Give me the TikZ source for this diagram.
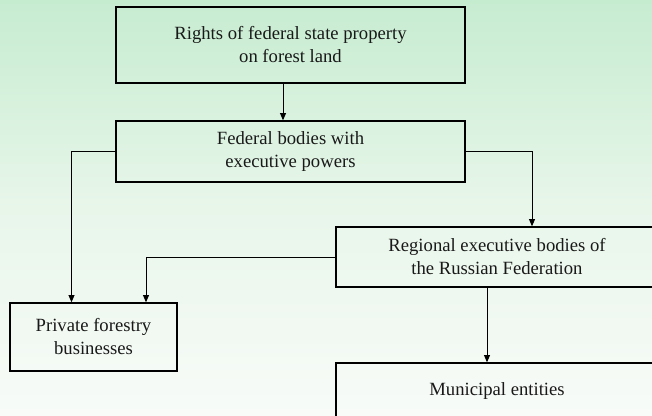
\documentclass[tikz,border=0pt]{standalone}
\usepackage{fontspec}
\setmainfont{Liberation Serif}
\usetikzlibrary{arrows.meta,calc}
\definecolor{bgtop}{RGB}{198,236,208}
\definecolor{bgmid}{RGB}{232,246,234}
\definecolor{bgbot}{RGB}{248,251,248}
\definecolor{txt}{RGB}{25,25,25}
\tikzset{
  box/.style={draw=black, line width=1pt, align=center, inner sep=0pt,
    font=\fontsize{14}{17.25}\selectfont, text=txt},
  link/.style={draw=black, line width=0.75pt,
    -{Triangle[length=5.5pt,width=4.5pt]}},
}
\begin{document}
\begin{tikzpicture}[x=0.75pt,y=-0.75pt]
\useasboundingbox (0,0) rectangle (652,415);
\clip (0,0) rectangle (652,415);
\shade[top color=bgtop, bottom color=bgbot, middle color=bgmid] (0,0) rectangle (652,415);
% boxes
\node[box, minimum width=349*0.75pt, minimum height=76*0.75pt] (top) at (290.5,45)
  {Rights of federal state property\\on forest land};
\node[box, minimum width=349*0.75pt, minimum height=61*0.75pt] (fed) at (290.5,151.5)
  {Federal bodies with\\executive powers};
\node[box, minimum width=322*0.75pt, minimum height=60*0.75pt] (reg) at (497,257)
  {Regional executive bodies of\\the Russian Federation};
\node[box, minimum width=167*0.75pt, minimum height=68*0.75pt] (priv) at (93.5,337)
  {Private forestry\\businesses};
\node[box, minimum width=322*0.75pt, minimum height=56*0.75pt] (mun) at (497,391)
  {Municipal entities};
% x positions of the vertical connectors
\coordinate (xa) at (283,0);
\coordinate (xb) at (71.5,0);
\coordinate (xc) at (532,0);
\coordinate (xd) at (146,0);
\coordinate (xe) at (487,0);
% connectors
\draw[link] (top.south -| xa) -- (fed.north -| xa);
\draw[link] (fed.west) -| (priv.north -| xb);
\draw[link] (fed.east) -| (reg.north -| xc);
\draw[link] (reg.west) -| (priv.north -| xd);
\draw[link] (reg.south -| xe) -- (mun.north -| xe);
\end{tikzpicture}
\end{document}
